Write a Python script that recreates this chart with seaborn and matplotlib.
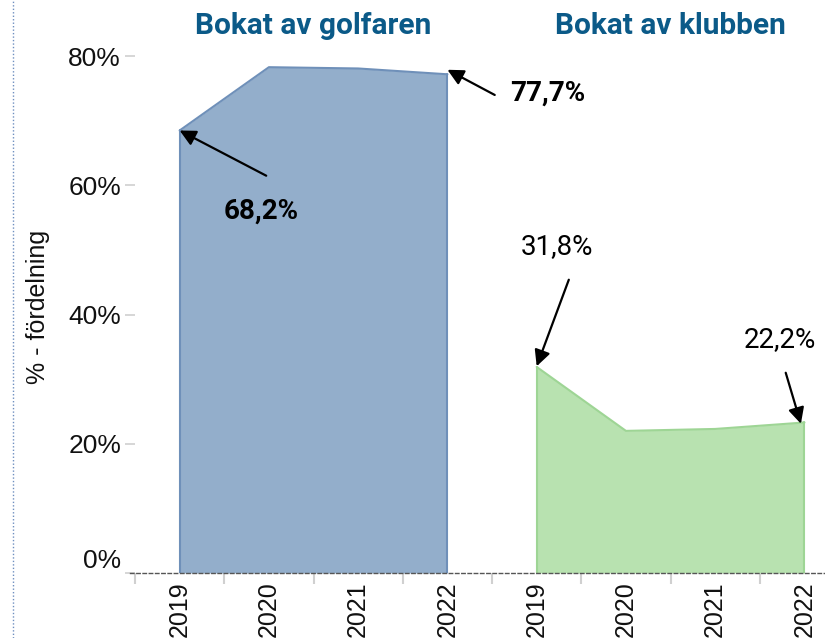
import matplotlib
matplotlib.use("Agg")
import matplotlib.pyplot as plt
import matplotlib.transforms as mtransforms
import seaborn as sns
import numpy as np
import pandas as pd
from matplotlib.lines import Line2D
from matplotlib.ticker import FuncFormatter, FixedLocator

years = ["2019", "2020", "2021", "2022"]
golfaren = [68.5, 78.3, 78.1, 77.2]
klubben = [31.9, 22.0, 22.3, 23.3]
titles = ["Bokat av golfaren", "Bokat av klubben"]
golfaren_labels = ["68,2%", "77,7%"]
klubben_labels = ["31,8%", "22,2%"]

sns.set_theme(style="white")
plt.rcParams["font.family"] = ["Roboto", "DejaVu Sans"]
tick_font = ["Liberation Sans", "DejaVu Sans"]

df = pd.DataFrame({
    "pos": list(range(8)),
    "value": golfaren + klubben,
    "group": ["golfaren"] * 4 + ["klubben"] * 4,
})

fig = plt.figure(figsize=(8.25, 6.38), dpi=100)
ax = fig.add_axes([135 / 825, 65 / 638, 690 / 825, 573 / 638])

blue_fill, blue_edge = "#93AECB", "#6F90B9"
green_fill, green_edge = "#B8E2B0", "#9ED595"

g = df[df.group == "golfaren"]
k = df[df.group == "klubben"]
ax.fill_between(g.pos, 0, g.value, color=blue_fill, lw=0)
ax.fill_between(k.pos, 0, k.value, color=green_fill, lw=0)
sns.lineplot(data=g, x="pos", y="value", ax=ax, color=blue_edge, lw=1.5)
sns.lineplot(data=k, x="pos", y="value", ax=ax, color=green_edge, lw=1.5)
for sub, col in [(g, blue_edge), (k, green_edge)]:
    xs = sub.pos.values
    ax.plot([xs[0], xs[0]], [0, sub.value.values[0]], color=col, lw=1.5)
    ax.plot([xs[-1], xs[-1]], [0, sub.value.values[-1]], color=col, lw=1.5)

ax.set_xlim(-0.5, 7.23)
ax.set_ylim(0, 88.7)

# ticks
ax.set_xticks(range(8))
ax.set_xticklabels(years + years, rotation=90, fontsize=18, color="#111111",
                   family=tick_font)
ax.xaxis.set_minor_locator(FixedLocator(np.arange(-0.5, 8, 1)))
ax.tick_params(axis="x", which="major", length=0, pad=6)
ax.tick_params(axis="x", which="minor", length=8, width=1.5, color="#d0d0d0", bottom=True)
ax.set_yticks([0, 20, 40, 60, 80])
ax.yaxis.set_major_formatter(FuncFormatter(lambda v, p: f"{int(v)}%"))
ax.tick_params(axis="y", which="major", length=7, width=1.2, color="#d0d0d0",
               labelsize=19, labelcolor="#111111", left=True, pad=3)
for lab in ax.get_yticklabels():
    lab.set_family(tick_font)
fig.canvas.draw()
for lab in ax.get_yticklabels():
    lab.set_family(tick_font)
zero_lab = ax.get_yticklabels()[0]
zero_lab.set_transform(zero_lab.get_transform() +
                       mtransforms.ScaledTranslation(0, 15 / 100, fig.dpi_scale_trans))

for s in ["top", "right", "left"]:
    ax.spines[s].set_visible(False)
ax.spines["bottom"].set_linestyle((0, (2.5, 2)))
ax.spines["bottom"].set_color("#555555")
ax.spines["bottom"].set_linewidth(1.0)
ax.spines["bottom"].set_bounds(-0.56, 7.23)
ax.spines["bottom"].set_clip_on(False)

ax.set_xlabel("")
ax.set_ylabel("")
fig.text(38 / 825, 1 - 307 / 638, "% - fördelning", rotation=90, fontsize=18,
         ha="center", va="center", color="#111111", family=tick_font)

# titles
title_col = "#0B5A88"
ax.text(1.5, 84.6, titles[0], ha="center", va="center", fontsize=21.5,
        fontweight="bold", color=title_col)
ax.text(5.5, 84.6, titles[1], ha="center", va="center", fontsize=21.5,
        fontweight="bold", color=title_col)

# annotations
arrow = dict(arrowstyle="-|>", mutation_scale=24, lw=1.6, color="black",
             shrinkA=0, shrinkB=0)
ax.annotate("", xy=(0.0, golfaren[0]), xytext=(0.97, 61.5), arrowprops=arrow)
ax.text(0.91, 56.0, golfaren_labels[0], ha="center", va="center", fontsize=20,
        fontweight="bold", color="black")
ax.annotate("", xy=(3.0, 77.9), xytext=(3.53, 74.0), arrowprops=arrow)
ax.text(3.70, 74.3, golfaren_labels[1], ha="left", va="center", fontsize=20,
        fontweight="bold", color="black")
ax.annotate("", xy=(4.0, 32.0), xytext=(4.36, 45.4), arrowprops=arrow)
ax.text(4.23, 50.6, klubben_labels[0], ha="center", va="center", fontsize=20,
        color="black")
ax.annotate("", xy=(6.96, 23.1), xytext=(6.79, 31.0), arrowprops=arrow)
ax.text(6.73, 36.1, klubben_labels[1], ha="center", va="center", fontsize=20,
        color="black")

# dotted border line on the left
fig.add_artist(Line2D([13 / 825, 13 / 825], [0, 1], transform=fig.transFigure,
                      color="#6F8FC0", lw=1.0, ls=(0, (1, 1.5))))

fig.savefig("out.png", dpi=100)
